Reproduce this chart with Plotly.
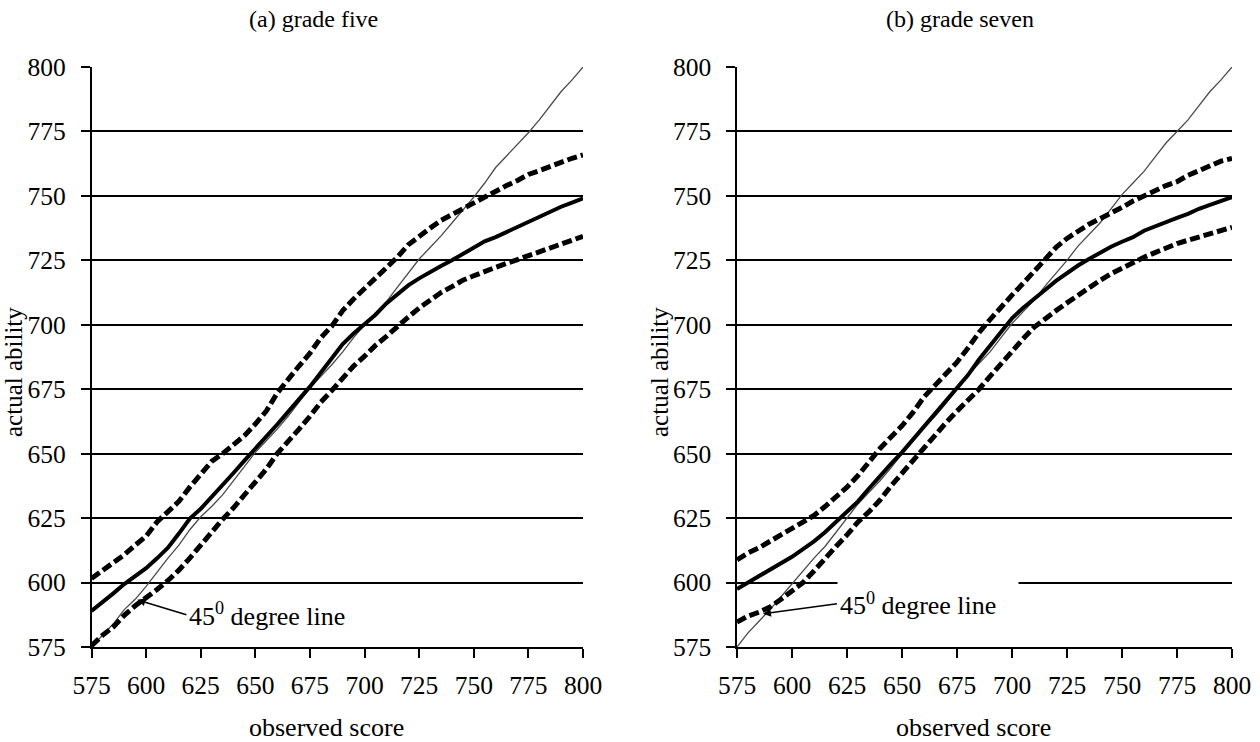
import plotly.graph_objects as go

W, H = 1260, 742
FONT = "Liberation Serif, Times New Roman, Times, DejaVu Serif, serif"

# observed score grid (x values)
score = [575, 580, 585, 590, 595, 600, 605, 610, 615, 620, 625, 630, 635, 640, 645,
         650, 655, 660, 665, 670, 675, 680, 685, 690, 695, 700, 705, 710, 715, 720,
         725, 730, 735, 740, 745, 750, 755, 760, 765, 770, 775, 780, 785, 790, 795, 800]

# (a) grade five
g5_mean = [589.0, 592.2, 595.8, 599.4, 602.5, 605.6, 609.4, 613.5, 619.0, 624.8, 628.6,
           633.2, 637.4, 642.5, 647.3, 651.8, 656.8, 661.3, 666.2, 671.0, 676.0, 681.5,
           687.2, 692.5, 696.6, 700.2, 703.9, 708.3, 711.8, 715.3, 718.0, 720.6, 722.8,
           725.0, 727.4, 730.0, 732.4, 734.0, 736.0, 738.0, 740.0, 742.0, 743.8, 745.8,
           747.4, 749.0]
g5_upper = [601.6, 604.5, 607.6, 610.8, 614.5, 618.0, 623.5, 627.7, 631.5, 637.0, 642.0,
            647.0, 650.0, 653.5, 657.0, 661.5, 666.5, 673.5, 679.0, 684.0, 689.0, 695.0,
            699.5, 705.5, 710.0, 714.0, 718.0, 722.2, 726.2, 731.0, 734.5, 737.5, 740.5,
            742.8, 745.0, 747.2, 749.5, 751.5, 754.0, 756.0, 758.3, 759.8, 761.5, 763.2,
            764.6, 765.9]
g5_lower = [575.5, 579.5, 582.8, 587.3, 591.0, 594.0, 597.3, 600.8, 604.8, 609.5, 614.5,
            620.0, 624.5, 629.0, 634.0, 638.5, 644.0, 650.0, 654.5, 659.5, 664.5, 670.0,
            674.5, 679.5, 684.0, 687.8, 692.0, 695.5, 699.5, 703.0, 706.5, 709.5, 712.5,
            714.8, 717.3, 719.0, 720.8, 722.3, 723.8, 725.3, 727.0, 728.5, 730.0, 731.5,
            733.0, 734.3]
g5_diag = [575.0, 579.5, 584.0, 589.5, 593.5, 598.5, 604.0, 609.5, 614.5, 620.5, 625.5,
           629.5, 634.0, 639.5, 645.0, 650.5, 655.0, 659.5, 664.5, 670.0, 675.5, 680.0,
           684.5, 689.5, 695.0, 700.0, 704.5, 709.0, 714.5, 720.0, 725.5, 730.0, 734.5,
           739.5, 744.5, 749.5, 755.0, 761.0, 765.5, 770.0, 774.5, 779.5, 785.0, 790.5,
           795.0, 800.0]

# (b) grade seven
g7_mean = [597.5, 600.0, 602.3, 605.0, 607.5, 610.0, 613.0, 616.0, 619.5, 623.5, 627.5,
           631.5, 636.5, 641.5, 646.0, 650.5, 655.5, 660.5, 665.0, 670.0, 675.0, 680.5,
           686.5, 692.0, 697.0, 702.5, 706.5, 709.8, 713.5, 717.0, 720.0, 723.0, 725.5,
           728.0, 730.3, 732.2, 734.0, 736.5, 738.3, 740.0, 741.5, 743.0, 745.0, 746.5,
           748.0, 749.5]
g7_upper = [608.8, 611.5, 613.5, 616.0, 618.5, 621.0, 623.0, 626.0, 629.5, 633.0, 637.0,
            641.5, 647.0, 652.0, 656.5, 660.8, 666.0, 672.0, 676.5, 681.0, 685.5, 691.0,
            697.0, 702.0, 707.0, 711.5, 716.0, 720.5, 725.5, 730.0, 733.5, 736.5, 739.0,
            741.2, 743.2, 745.5, 748.0, 750.0, 752.5, 754.0, 755.5, 758.0, 759.8, 761.5,
            763.5, 764.5]
g7_lower = [584.7, 587.0, 588.5, 590.5, 593.5, 596.5, 600.0, 604.5, 609.5, 614.0, 618.5,
            623.5, 627.5, 632.0, 637.5, 642.5, 647.0, 652.5, 657.0, 662.0, 666.5, 670.5,
            675.0, 680.0, 685.0, 689.5, 694.5, 699.0, 702.5, 705.5, 708.5, 711.5, 714.5,
            717.2, 719.8, 722.0, 724.2, 726.2, 728.0, 730.0, 731.5, 732.8, 734.0, 735.2,
            736.5, 737.8]
g7_diag = [575.0, 580.5, 585.0, 589.5, 594.5, 599.5, 604.5, 609.5, 614.0, 619.5, 625.0,
           630.5, 635.0, 639.5, 644.5, 650.0, 655.5, 660.0, 664.5, 669.5, 675.0, 680.5,
           685.0, 689.5, 695.0, 700.5, 705.0, 709.5, 715.0, 720.0, 725.0, 730.5, 735.0,
           739.5, 745.0, 750.5, 755.0, 759.5, 765.0, 770.5, 775.0, 779.5, 785.0, 790.5,
           795.0, 800.0]

panel_titles = ["(a) grade five", "(b) grade seven"]
x_title = "observed score"
y_title = "actual ability"
note_text = "45<sup>0</sup> degree line"
tick_vals = [575, 600, 625, 650, 675, 700, 725, 750, 775, 800]

# pixel layout helpers
def px(x):
    return x / W

def py(y):
    return 1 - y / H

panels = [
    dict(xd=[91.5, 583], g=(g5_diag, g5_mean, g5_upper, g5_lower)),
    dict(xd=[737, 1232], g=(g7_diag, g7_mean, g7_upper, g7_lower)),
]
Y_TOP, Y_BOT = 67, 647

fig = go.Figure()
for i, p in enumerate(panels):
    xa = "x" if i == 0 else "x2"
    ya = "y" if i == 0 else "y2"
    diag, mean, upper, lower = p["g"]
    fig.add_trace(go.Scatter(x=score, y=diag, mode="lines", xaxis=xa, yaxis=ya,
                             line=dict(color="#4a4a4a", width=1.3), showlegend=False))
    fig.add_trace(go.Scatter(x=score, y=upper, mode="lines", xaxis=xa, yaxis=ya,
                             line=dict(color="black", width=5, dash="10px,4px"), showlegend=False))
    fig.add_trace(go.Scatter(x=score, y=lower, mode="lines", xaxis=xa, yaxis=ya,
                             line=dict(color="black", width=5, dash="10px,4px"), showlegend=False))
    fig.add_trace(go.Scatter(x=score, y=mean, mode="lines", xaxis=xa, yaxis=ya,
                             line=dict(color="black", width=4), showlegend=False))

axis_common = dict(range=[575, 800], tickvals=tick_vals, ticks="outside", ticklen=9,
                   tickwidth=1.5, tickcolor="black", showline=True, linecolor="black",
                   linewidth=1.5, zeroline=False, automargin=False,
                   tickfont=dict(family=FONT, size=25.5, color="black"))

for i, p in enumerate(panels):
    sx = "" if i == 0 else "2"
    fig.update_layout(**{
        "xaxis" + sx: dict(axis_common, domain=[px(p["xd"][0]), px(p["xd"][1])],
                           anchor="y" + sx, showgrid=False, ticklabelstandoff=6),
        "yaxis" + sx: dict(axis_common, domain=[py(Y_BOT), py(Y_TOP)],
                           anchor="x" + sx, showgrid=True, gridcolor="black",
                           gridwidth=1.5, ticklabelstandoff=10),
    })

annotations = []
title_x = [313, 960]
xt_x = [326, 973]
yt_x = [13, 659]
for i in range(2):
    annotations.append(dict(text=panel_titles[i], x=px(title_x[i]), y=py(19), xref="paper",
                            yref="paper", showarrow=False, xanchor="center", yanchor="middle",
                            font=dict(family=FONT, size=24, color="black")))
    annotations.append(dict(text=x_title, x=px(xt_x[i]), y=py(727), xref="paper",
                            yref="paper", showarrow=False, xanchor="center", yanchor="middle",
                            font=dict(family=FONT, size=26, color="black")))
    annotations.append(dict(text=y_title, x=px(yt_x[i]), y=py(372), xref="paper",
                            yref="paper", showarrow=False, textangle=-90, xanchor="center",
                            yanchor="middle", font=dict(family=FONT, size=25, color="black")))

# arrow annotations
annotations.append(dict(text=note_text, x=596, y=593.3, xref="x", yref="y", showarrow=True,
                        ax=49, ay=15, axref="pixel", ayref="pixel", xanchor="left",
                        yanchor="middle", arrowhead=2, arrowsize=1, arrowwidth=1.6,
                        arrowcolor="black", bgcolor="white", borderpad=2,
                        font=dict(family=FONT, size=26, color="black")))
annotations.append(dict(text=note_text, x=586.8, y=587.9, xref="x2", yref="y2", showarrow=True,
                        ax=74, ay=-10, axref="pixel", ayref="pixel", xanchor="left",
                        yanchor="middle", arrowhead=2, arrowsize=1, arrowwidth=1.6,
                        arrowcolor="black", bgcolor="white", width=176, height=46,
                        align="left", borderpad=2,
                        font=dict(family=FONT, size=26, color="black")))

fig.update_layout(width=W, height=H, margin=dict(l=0, r=0, t=0, b=0, autoexpand=False),
                  paper_bgcolor="white", plot_bgcolor="white", annotations=annotations,
                  showlegend=False)

fig.write_html("out.html")
